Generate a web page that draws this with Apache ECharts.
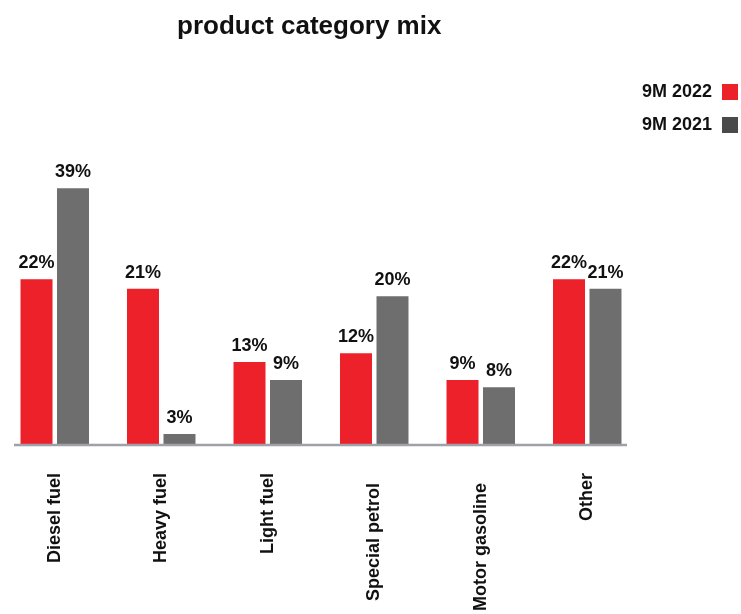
<!DOCTYPE html>
<html>
<head>
<meta charset="utf-8">
<script src="https://cdn.jsdelivr.net/npm/echarts@6/dist/echarts.min.js"></script>
<style>html,body{margin:0;padding:0;background:#fff}#c{width:741px;height:614px}</style>
</head>
<body>
<div id="c"></div>
<script>
var categories = ['Diesel fuel', 'Heavy fuel', 'Light fuel', 'Special petrol', 'Motor gasoline', 'Other'];
var seriesNames = ['9M 2022', '9M 2021'];
// bar heights as drawn in the picture (percent units)
var values2022 = [22.4, 21.1, 11.2, 12.4, 8.8, 22.4];
var values2021 = [34.7, 1.5, 8.8, 20.1, 7.8, 21.1];
// printed labels
var labels2022 = ['22%', '21%', '13%', '12%', '9%', '22%'];
var labels2021 = ['39%', '3%', '9%', '20%', '8%', '21%'];

var FONT = '"Liberation Sans", Arial, sans-serif';
var chart = echarts.init(document.getElementById('c'), null, {renderer: 'canvas'});
function lab(arr) {
  return {
    show: true, position: 'top', distance: 7,
    fontFamily: FONT, fontWeight: 'bold', fontSize: 18, color: '#111',
    formatter: function (p) { return arr[p.dataIndex]; }
  };
}
var longLabels = ['Special petrol', 'Motor gasoline'];
var xData = categories.map(function (c) {
  return longLabels.indexOf(c) >= 0 ? {value: c, textStyle: {padding: [0, 10, 0, 0]}} : c;
});
chart.setOption({
  animation: false,
  title: {
    text: 'product category mix', left: 172, top: 9,
    textStyle: {fontFamily: FONT, fontWeight: 'bold', fontSize: 26, color: '#111'}
  },
  legend: {
    orient: 'vertical', right: 3, top: 83, align: 'right', padding: 0,
    itemWidth: 16, itemHeight: 16, itemGap: 15, icon: 'rect',
    textStyle: {fontFamily: FONT, fontWeight: 'bold', fontSize: 18, color: '#111', padding: [0, 5, 0, 0]},
    data: [
      {name: seriesNames[0], itemStyle: {color: '#ec2129'}},
      {name: seriesNames[1], itemStyle: {color: '#4a4a4a'}}
    ]
  },
  grid: {left: 1.5, right: 100.5, top: 149, bottom: 169, containLabel: false},
  xAxis: {
    type: 'category', data: xData,
    axisLine: {show: false}, axisTick: {show: false},
    axisLabel: {
      rotate: 90, margin: 28, interval: 0,
      fontFamily: FONT, fontWeight: 'bold', fontSize: 18, color: '#111'
    }
  },
  yAxis: {type: 'value', min: 0, max: 40, show: false, splitLine: {show: false}},
  graphic: [{
    type: 'line', z: 10,
    shape: {x1: 14, y1: 445, x2: 627, y2: 445},
    style: {stroke: '#9ea1a9', lineWidth: 2.5}
  }],
  series: [
    {name: seriesNames[0], type: 'bar', data: values2022, barWidth: 32, barGap: '14%',
      itemStyle: {color: '#ec2129'}, label: lab(labels2022)},
    {name: seriesNames[1], type: 'bar', data: values2021, barWidth: 32, barGap: '14%',
      itemStyle: {color: '#6e6e6e'}, label: lab(labels2021)}
  ]
});
</script>
</body>
</html>
